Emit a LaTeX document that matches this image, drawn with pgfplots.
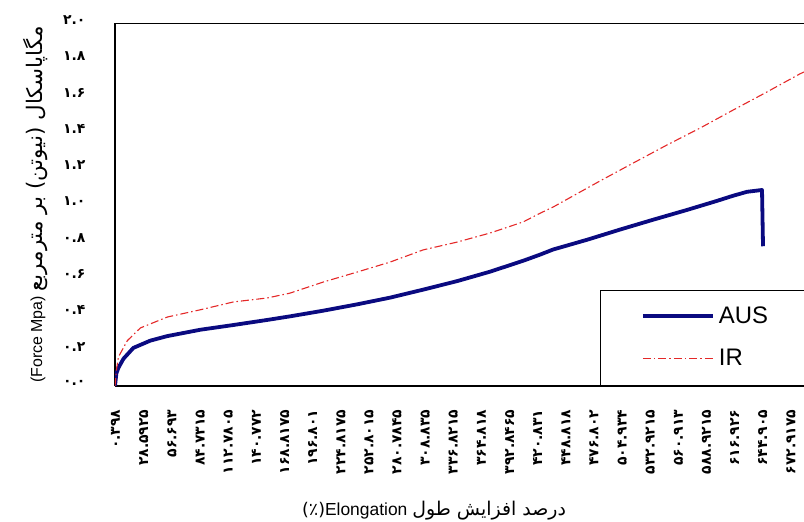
\documentclass[border=0pt]{standalone}
\usepackage{fontspec}
\usepackage{pgfplots}
\pgfplotsset{compat=1.18}
\setmainfont{Liberation Sans}
\newfontfamily\arabicfont[Script=Arabic]{DejaVu Sans}
\definecolor{ausblue}{RGB}{10,10,128}
\definecolor{irred}{RGB}{228,40,40}

\pgfplotstableread{
x y
0 0
1.4 0.07
3.4 0.10
8.4 0.15
18.3 0.21
35.2 0.25
52.1 0.275
85 0.31
117.8 0.336
151.6 0.364
174.5 0.384
207.4 0.415
241.2 0.45
274 0.487
306.9 0.531
340.7 0.578
373.5 0.630
406.4 0.690
423.3 0.724
436.2 0.752
470.2 0.806
502.9 0.862
535.7 0.916
569.5 0.970
599.4 1.020
615.3 1.048
629.3 1.070
644.2 1.080
645.2 0.77
}\aus

\pgfplotstableread{
x y
0 0
1.5 0.09
3.4 0.16
12.3 0.25
25.3 0.32
52.1 0.38
85 0.42
117.8 0.463
151.6 0.485
174.5 0.512
207.4 0.573
241.2 0.628
274 0.683
306.9 0.75
340.7 0.793
373.5 0.843
406.4 0.904
423.3 0.952
436.2 0.986
483 1.13
515.8 1.228
549.6 1.328
582.5 1.421
615.3 1.52
649.1 1.62
682 1.72
686 1.73
}\ir

\begin{document}
\begin{tikzpicture}
\begin{axis}[name=ax,
  scale only axis, width=689bp, height=363bp,
  xmin=0, xmax=686, ymin=0, ymax=2,
  axis x line*=bottom, axis y line*=left,
  axis line style={line width=1.4bp, black},
  major tick length=0pt,
  xtick={0.398,28.5925,56.693,84.7315,112.7805,140.772,168.8175,196.801,224.8175,252.8015,280.7845,308.835,336.8215,364.818,392.8465,420.831,448.818,476.802,504.934,532.9215,560.913,588.9215,616.926,644.905,672.9175},
  xticklabels={۰.۳۹۸,۲۸.۵۹۲۵,۵۶.۶۹۳,۸۴.۷۳۱۵,۱۱۲.۷۸۰۵,۱۴۰.۷۷۲,۱۶۸.۸۱۷۵,۱۹۶.۸۰۱,۲۲۴.۸۱۷۵,۲۵۲.۸۰۱۵,۲۸۰.۷۸۴۵,۳۰۸.۸۳۵,۳۳۶.۸۲۱۵,۳۶۴.۸۱۸,۳۹۲.۸۴۶۵,۴۲۰.۸۳۱,۴۴۸.۸۱۸,۴۷۶.۸۰۲,۵۰۴.۹۳۴,۵۳۲.۹۲۱۵,۵۶۰.۹۱۳,۵۸۸.۹۲۱۵,۶۱۶.۹۲۶,۶۴۴.۹۰۵,۶۷۲.۹۱۷۵},
  xticklabel style={rotate=90, anchor=east, font=\arabicfont\bfseries\fontsize{14}{14}\selectfont},
  xticklabel shift=20bp,
  ytick={0,0.2,0.4,0.6,0.8,1,1.2,1.4,1.6,1.8,2},
  yticklabels={۰.۰,۰.۲,۰.۴,۰.۶,۰.۸,۱.۰,۱.۲,۱.۴,۱.۶,۱.۸,۲.۰},
  yticklabel style={font=\arabicfont\bfseries\fontsize{14}{14}\selectfont, yshift=3bp},
  yticklabel shift=26bp,
  ylabel={(Force Mpa) {\arabicfont\fontsize{21.5}{21.5}\selectfont مترمربع بر (نیوتن) مگاپاسکال}},
  ylabel style={at={(axis description cs:-0.116,0.5)}, anchor=center, font=\fontsize{16}{16}\selectfont},
  xlabel={{\arabicfont (٪)}Elongation {\arabicfont\fontsize{19}{19}\selectfont طول افزایش درصد}},
  xlabel style={at={(axis description cs:0.463,-0.342)}, anchor=center, font=\fontsize{17.5}{17.5}\selectfont},
  legend cell align=left,
  legend style={at={(rel axis cs:0.705,0.262)}, anchor=north west, draw=none, fill=none,
    inner xsep=0pt, inner ysep=4bp, row sep=0pt, column sep=4bp,
    nodes={inner sep=0pt}, font=\fontsize{24}{24}\selectfont},
]
\addplot[ausblue, line width=3.8bp, line join=round,
  legend image code/.code={\path[draw=none,fill=none] (0bp,-21bp) rectangle (0bp,21bp); \draw[ausblue, line width=4bp] (42bp,0bp) -- (112bp,0bp);}]
  table[x=x,y=y] {\aus};
\addlegendentry{AUS}
\addplot[irred, line width=1.1bp, dash pattern=on 8bp off 3bp on 1.5bp off 3bp,
  legend image code/.code={\path[draw=none,fill=none] (0bp,-21bp) rectangle (0bp,21bp); \draw[irred, line width=1.1bp, dash pattern=on 8bp off 3bp on 1.5bp off 3bp] (42bp,0bp) -- (112bp,0bp);}]
  table[x=x,y=y] {\ir};
\addlegendentry{IR}
\draw[line width=1.4bp] (rel axis cs:0,1) -- (rel axis cs:1,1);
\draw[line width=1.2bp] (rel axis cs:0.705,0) -- (rel axis cs:0.705,0.262) -- (rel axis cs:1,0.262);
\end{axis}
\pgfresetboundingbox
\useasboundingbox ([xshift=-115bp,yshift=-136bp]ax.south west) rectangle ([yshift=23bp]ax.north east);
\end{tikzpicture}
\end{document}
